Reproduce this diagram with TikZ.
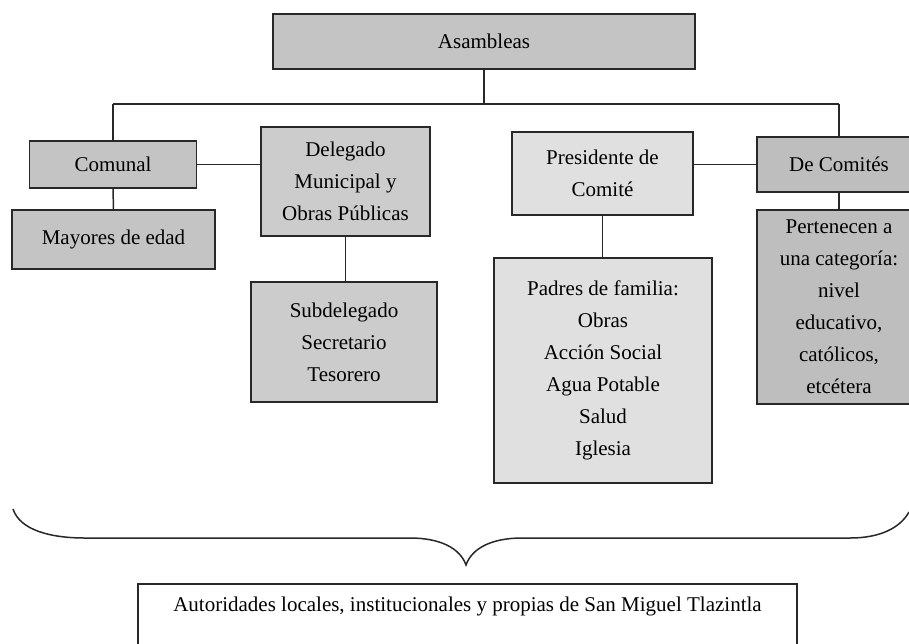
\documentclass[tikz,border=0pt]{standalone}
\usepackage{fontspec}
\setmainfont{Liberation Serif}
\usetikzlibrary{positioning}
\definecolor{grisuno}{RGB}{196,196,196}
\definecolor{grisdos}{RGB}{204,204,204}
\definecolor{gristres}{RGB}{190,190,190}
\definecolor{grisclaro}{RGB}{224,224,224}
\definecolor{trazo}{RGB}{40,40,40}

\begin{document}
\begin{tikzpicture}[x=1pt,y=-1pt,
  caja/.style={draw=trazo,line width=1.5pt,align=center,inner sep=2pt,
    font=\fontsize{21}{32}\selectfont},
  linea/.style={draw=trazo,line width=1.5pt}]
  \clip (0,0) rectangle (909,643);
  \fill[white] (0,0) rectangle (909,643);
  % cajas
  \node[caja,fill=grisuno,minimum width=422,minimum height=55] (asam) at (484,41.5) {Asambleas};
  \node[caja,fill=grisuno,minimum width=167,minimum height=47] (comunal) at (113,164.5) {Comunal};
  \node[caja,fill=grisuno,minimum width=203,minimum height=59] (mayores) at (113.5,239.5) {Mayores de edad};
  \node[caja,fill=grisdos,minimum width=169,minimum height=109] (delegado) at (345.5,181.5) {Delegado\\Municipal y\\Obras Públicas};
  \node[caja,fill=grisdos,minimum width=186,minimum height=120] (subdel) at (344,342) {Subdelegado\\Secretario\\Tesorero};
  \node[caja,fill=grisclaro,minimum width=181,minimum height=83] (presid) at (602.5,173.5) {Presidente de\\Comité};
  \node[caja,fill=grisclaro,minimum width=218,minimum height=225] (padres) at (603,370.5) {Padres de familia:\\Obras\\Acción Social\\Agua Potable\\Salud\\Iglesia};
  \node[caja,fill=gristres,minimum width=164,minimum height=55] (comites) at (839,164.5) {De Comités};
  \node[caja,fill=gristres,minimum width=164,minimum height=194] (perten) at (839,307) {Pertenecen a\\una categoría:\\nivel\\educativo,\\católicos,\\etcétera};
  \node[caja,anchor=north,minimum width=659,text height=16pt,text depth=60pt,inner ysep=12pt] (autor) at (467.5,583) {Autoridades locales, institucionales y propias de San Miguel Tlazintla};

  % conectores
  \coordinate (izq) at (113,104);
  \coordinate (der) at (839,104);
  \draw[linea] (asam.south) -- (asam.south |- izq);
  \draw[linea] (izq) -- (der);
  \draw[linea] (izq) -- (comunal.north);
  \draw[linea] (der) -- (comites.north);
  \draw[linea] (comunal.south) -- (mayores.north);
  \draw[linea] (comunal.east) -- (comunal.east -| delegado.west);
  \draw[linea] (delegado.south) -- (delegado.south |- subdel.north);
  \draw[linea] (presid.south) -- (presid.south |- padres.north);
  \draw[linea] (presid.east |- comites.west) -- (comites.west);
  \draw[linea] (comites.south) -- (perten.north);

  % llave
  \draw[trazo,line width=1.5pt] (13,509) .. controls (20,530) and (50,538) .. (85,538) -- (410,538)
    .. controls (440,538) and (460,548) .. (466,565)
    .. controls (472,548) and (492,538) .. (522,538) -- (850,538)
    .. controls (880,538) and (900,528) .. (909,512);
\end{tikzpicture}
\end{document}
